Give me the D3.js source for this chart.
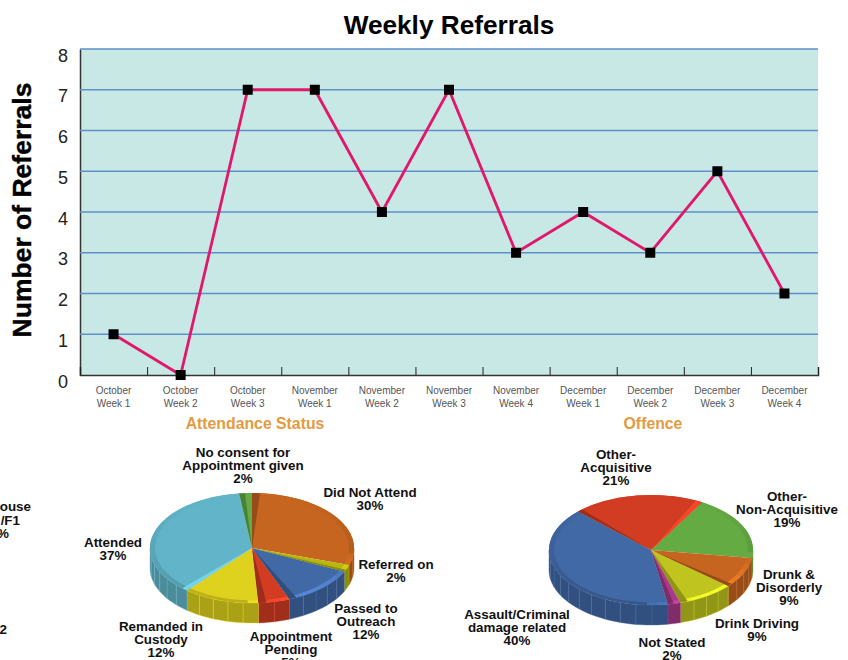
<!DOCTYPE html>
<html>
<head>
<meta charset="utf-8">
<script src="https://cdnjs.cloudflare.com/ajax/libs/d3/7.8.5/d3.min.js"></script>
<style>
  body { margin: 0; background: #fff; }
  text { font-family: "Liberation Sans", Arial, sans-serif; }
</style>
</head>
<body>
<svg id="chart" width="848" height="660"></svg>
<script>
const weekLabels = [
  ["October", "Week 1"], ["October", "Week 2"], ["October", "Week 3"],
  ["November", "Week 1"], ["November", "Week 2"], ["November", "Week 3"], ["November", "Week 4"],
  ["December", "Week 1"], ["December", "Week 2"], ["December", "Week 3"], ["December", "Week 4"],
];
const referrals = [1, 0, 7, 7, 4, 7, 3, 4, 3, 5, 2];
const yTicks = [0, 1, 2, 3, 4, 5, 6, 7, 8];

const attendanceValues = [30, 2, 12, 5, 12, 37, 2];
const attendanceColors = ["#c6651f", "#b7b70f", "#4169a6", "#d23c22", "#dfd21e", "#62b5c9", "#63ac45"];
const attendanceLabels = [
  ["Did Not Attend", "30%"],
  ["Referred on", "2%"],
  ["Passed to", "Outreach", "12%"],
  ["Appointment", "Pending", "5%"],
  ["Remanded in", "Custody", "12%"],
  ["Attended", "37%"],
  ["No consent for", "Appointment given", "2%"],
];
const attendanceLabelPos = [[370, 497], [396, 569], [366, 613], [291, 641], [161, 631], [113, 547], [243, 457]];

const offenceValues = [19, 9, 9, 2, 40, 21];
const offenceColors = ["#64ab43", "#c6651f", "#bfc41e", "#a8398b", "#4169a6", "#d23c22"];
const offenceLabels = [
  ["Other-", "Non-Acquisitive", "19%"],
  ["Drunk &", "Disorderly", "9%"],
  ["Drink Driving", "9%"],
  ["Not Stated", "2%"],
  ["Assault/Criminal", "damage related", "40%"],
  ["Other-", "Acquisitive", "21%"],
];
const offenceLabelPos = [[787, 501], [789, 579], [757, 628], [672, 647], [517, 619], [616, 459]];

// bits of a third pie cut off by the left edge of the page
const clippedText = [["ouse", 31, 511], ["/F1", 20, 525], ["%", 9, 538], ["2", 7, 634]];

const svg = d3.select("#chart");

// ---- line chart ----
const plot = {left: 80, right: 818, top: 49, bottom: 375};

const x = d3.scaleBand()
    .domain(d3.range(weekLabels.length))
    .range([plot.left, plot.right]);
const xEdge = d3.scaleLinear()
    .domain([0, weekLabels.length])
    .range([plot.left, plot.right]);
const y = d3.scaleLinear()
    .domain([0, 8])
    .range([plot.bottom, plot.top]);

svg.append("rect")
    .attr("x", plot.left)
    .attr("y", plot.top)
    .attr("width", plot.right - plot.left)
    .attr("height", plot.bottom - plot.top)
    .attr("fill", "#c8e8e5");

svg.append("text")
    .attr("x", 449)
    .attr("y", 34)
    .attr("text-anchor", "middle")
    .attr("font-size", 26.2)
    .attr("font-weight", "bold")
    .attr("fill", "#000")
    .text("Weekly Referrals");

svg.append("text")
    .attr("transform", "translate(31,210) rotate(-90)")
    .attr("text-anchor", "middle")
    .attr("font-size", 26.5)
    .attr("font-weight", "bold")
    .attr("fill", "#000")
    .attr("stroke", "#000")
    .attr("stroke-width", 0.4)
    .text("Number of Referrals");

const yAxis = svg.append("g")
    .attr("transform", `translate(${plot.left},0)`)
    .call(d3.axisLeft(y).tickValues(yTicks).tickSize(0).tickPadding(12));
yAxis.select(".domain").attr("stroke", "#333").attr("stroke-width", 1.5);
yAxis.selectAll("text")
    .attr("font-size", 18)
    .attr("font-family", null)
    .attr("fill", "#222")
    .attr("dy", 12);

svg.append("g")
  .selectAll("line")
  .data(yTicks.filter(d => d > 0))
  .join("line")
    .attr("x1", plot.left)
    .attr("x2", plot.right)
    .attr("y1", d => y(d))
    .attr("y2", d => y(d))
    .attr("stroke", "#5e8fcb")
    .attr("stroke-width", 1.5);

const xTicks = svg.append("g")
    .attr("transform", `translate(0,${plot.bottom})`)
    .call(d3.axisTop(xEdge).ticks(weekLabels.length).tickSize(8).tickFormat(""));
xTicks.select(".domain").attr("stroke", "#333").attr("stroke-width", 1.5);
xTicks.selectAll("line").attr("stroke", "#222").attr("stroke-width", 1);

svg.append("g")
  .selectAll("text")
  .data(weekLabels)
  .join("text")
    .attr("text-anchor", "middle")
    .attr("font-size", 10)
    .attr("fill", "#555")
  .selectAll("tspan")
  .data((d, i) => d.map((t, j) => ({t, j, i})))
  .join("tspan")
    .attr("x", d => x(d.i) + x.bandwidth() / 2)
    .attr("y", d => 394 + d.j * 13)
    .text(d => d.t);

const line = d3.line()
    .x((d, i) => x(i) + x.bandwidth() / 2)
    .y(d => y(d));

svg.append("path")
    .datum(referrals)
    .attr("d", line)
    .attr("fill", "none")
    .attr("stroke", "#e0176a")
    .attr("stroke-width", 2.8);

svg.append("g")
  .selectAll("rect")
  .data(referrals)
  .join("rect")
    .attr("x", (d, i) => x(i) + x.bandwidth() / 2 - 5)
    .attr("y", d => y(d) - 5)
    .attr("width", 10)
    .attr("height", 10)
    .attr("fill", "#000");

// ---- 3d pies ----
const rx = 102, ry = 55, depth = 20;
const rad = Math.PI / 180;

function shade(c, k) {
  return k > 0 ? d3.color(c).brighter(k).formatHex() : d3.color(c).darker(-k).formatHex();
}

// rim light: only the stretch along the lower right catches it
function rimLight(angle) {
  const a = angle % (2 * Math.PI);
  const front = 0.5 - 0.5 * Math.cos(a);
  if (a > 95 * rad && a < 185 * rad) return Math.cos(2 * (a - 140 * rad)) * front * 0.8;
  return -front * 0.5;
}

function drawPie(cx, cy, startDeg, values, colors) {
  const slices = d3.pie().sort(null)
      .startAngle(startDeg * rad)
      .endAngle(startDeg * rad + 2 * Math.PI)(values);
  const g = svg.append("g");
  const pt = (a, off) => [cx + rx * Math.sin(a), cy - ry * Math.cos(a) + off];
  const wallLine = d3.line();

  // outer wall, front half only, cut in small facets
  slices.forEach((s, i) => {
    const wrap = a => a > 2 * Math.PI ? a - 2 * Math.PI : a;
    const a0 = wrap(s.startAngle), a1 = a0 + (s.endAngle - s.startAngle);
    const from = Math.max(a0, 90 * rad), to = Math.min(a1, 270 * rad);
    if (to <= from) return;
    const n = Math.max(1, Math.round((to - from) / (9 * rad)));
    d3.range(n).forEach(k => {
      const p = from + (to - from) * k / n, q = from + (to - from) * (k + 1) / n;
      const arcPts = d3.range(4).map(m => pt(p + (q - p) * m / 3, 0));
      const lowPts = d3.range(4).map(m => pt(q - (q - p) * m / 3, depth));
      g.append("path")
          .attr("d", wallLine(arcPts.concat(lowPts)) + "Z")
          .attr("fill", shade(colors[i], -0.75))
          .attr("stroke", shade(colors[i], 0.1))
          .attr("stroke-width", 0.4);
    });
  });

  const top = g.append("g")
      .attr("transform", `translate(${cx},${cy}) scale(1,${ry / rx})`);
  const arc = d3.arc();

  // top faces
  top.selectAll("path.face")
    .data(slices)
    .join("path")
      .attr("class", "face")
      .attr("d", d => arc({innerRadius: 0, outerRadius: rx, startAngle: d.startAngle, endAngle: d.endAngle}))
      .attr("fill", (d, i) => colors[i]);

  // rim bevel
  slices.forEach((s, i) => {
    const n = Math.max(1, Math.round((s.endAngle - s.startAngle) / (6 * rad)));
    d3.range(n).forEach(k => {
      const p = s.startAngle + (s.endAngle - s.startAngle) * k / n;
      const q = s.startAngle + (s.endAngle - s.startAngle) * (k + 1) / n;
      top.append("path")
          .attr("d", arc({innerRadius: rx * 0.95, outerRadius: rx, startAngle: p, endAngle: q}))
          .attr("fill", shade(colors[i], rimLight((p + q) / 2)));
    });
  });

  // radial bevels: dark on edges facing left, light on edges facing lower right
  slices.forEach((s, i) => {
    const span = s.endAngle - s.startAngle;
    [[s.startAngle, 1], [s.endAngle, -1]].forEach(([edge, dir]) => {
      const normal = edge - dir * Math.PI / 2;
      const sx = Math.sin(normal), cn = Math.cos(normal);
      const dark = sx < 0 && cn < 0.2;
      const light = sx > 0 && cn < -0.2;
      if (!dark && !light) return;
      const w = Math.min(span * 0.45, 4.5 * rad * Math.abs(sx));
      if (w < 1.5 * rad) return;
      const a = dir > 0 ? edge : edge - w, b = dir > 0 ? edge + w : edge;
      top.append("path")
          .attr("d", arc({innerRadius: 0, outerRadius: rx, startAngle: a, endAngle: b}))
          .attr("fill", shade(colors[i], dark ? -0.8 : 0.45));
    });
  });
}

function drawLabels(labels, pos) {
  svg.append("g")
    .selectAll("text")
    .data(labels)
    .join("text")
      .attr("text-anchor", "middle")
      .attr("font-size", 13.4)
      .attr("font-weight", "bold")
      .attr("fill", "#111")
    .selectAll("tspan")
    .data((d, i) => d.map((t, j) => ({t, j, i})))
    .join("tspan")
      .attr("x", d => pos[d.i][0])
      .attr("y", d => pos[d.i][1] + d.j * 13.2)
      .text(d => d.t);
}

svg.append("g")
  .selectAll("text")
  .data([["Attendance Status", 255], ["Offence", 653]])
  .join("text")
    .attr("x", d => d[1])
    .attr("y", 429)
    .attr("text-anchor", "middle")
    .attr("font-size", 15.8)
    .attr("font-weight", "bold")
    .attr("fill", "#e59a3f")
    .text(d => d[0]);

drawPie(252, 548, 0, attendanceValues, attendanceColors);
drawPie(651, 550, 30, offenceValues, offenceColors);
drawLabels(attendanceLabels, attendanceLabelPos);
drawLabels(offenceLabels, offenceLabelPos);

svg.append("g")
  .selectAll("text")
  .data(clippedText)
  .join("text")
    .attr("x", d => d[1])
    .attr("y", d => d[2])
    .attr("text-anchor", "end")
    .attr("font-size", 13.4)
    .attr("font-weight", "bold")
    .attr("fill", "#111")
    .text(d => d[0]);
</script>
</body>
</html>
